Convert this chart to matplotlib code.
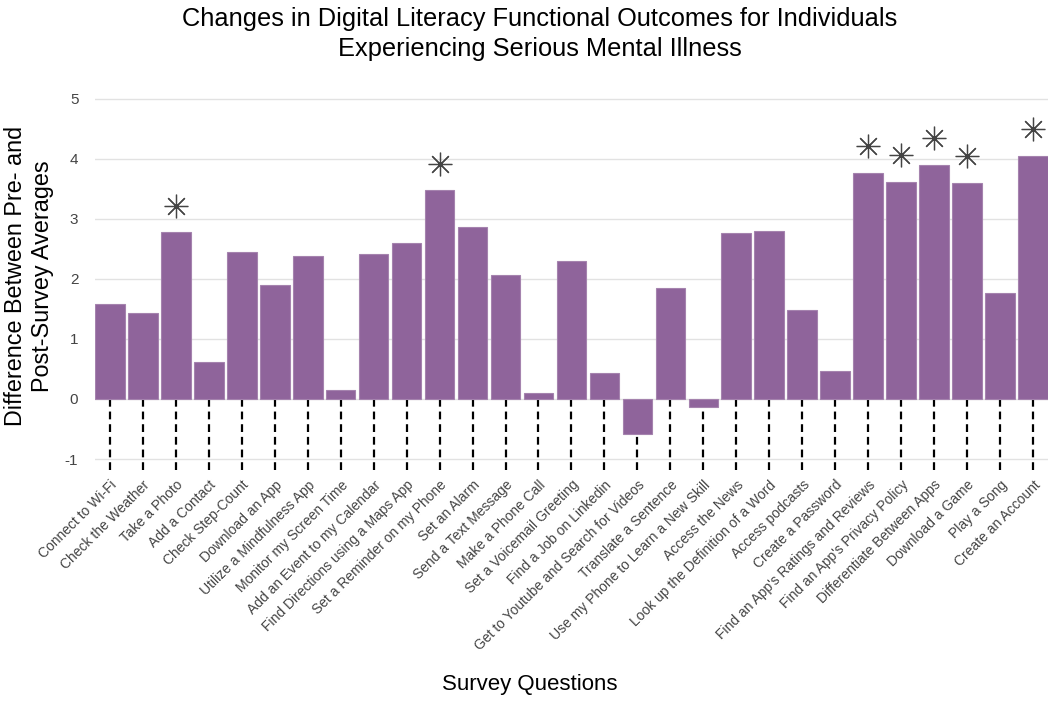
import numpy as np
import matplotlib.pyplot as plt

plt.rcParams['font.family'] = ['Liberation Sans', 'DejaVu Sans']

questions = ["Connect to Wi-Fi", "Check the Weather", "Take a Photo", "Add a Contact",
             "Check Step-Count", "Download an App", "Utilize a Mindfulness App",
             "Monitor my Screen Time", "Add an Event to my Calendar",
             "Find Directions using a Maps App", "Set a Reminder on my Phone",
             "Set an Alarm", "Send a Text Message", "Make a Phone Call",
             "Set a Voicemail Greeting", "Find a Job on Linkedin",
             "Get to Youtube and Search for Videos", "Translate a Sentence",
             "Use my Phone to Learn a New Skill", "Access the News",
             "Look up the Definition of a Word", "Access podcasts", "Create a Password",
             "Find an App's Ratings and Reviews", "Find an App's Privacy Policy",
             "Differentiate Between Apps", "Download a Game", "Play a Song",
             "Create an Account"]
diffs = [1.58, 1.43, 2.78, 0.62, 2.45, 1.90, 2.38, 0.15, 2.41, 2.60, 3.48, 2.87,
         2.06, 0.10, 2.30, 0.43, -0.58, 1.85, -0.14, 2.77, 2.80, 1.48, 0.46,
         3.77, 3.62, 3.90, 3.60, 1.77, 4.05]
significant = [2, 10, 23, 24, 25, 26, 28]

x = np.arange(len(questions))
vals = np.array(diffs)

fig = plt.figure(figsize=(10.5, 7.03), dpi=100)
ax = fig.add_axes([0.0905, 0.33, 0.9075, 0.555])

ax.set_axisbelow(True)
ax.yaxis.grid(True, color='#e2e2e2', linewidth=1)
ax.bar(x, vals, width=0.9, color='#8f649b', edgecolor='#a583ae', linewidth=0.8, zorder=3)

# dashed connectors from bar bottom down to tick labels
bottoms = np.minimum(vals, 0)
ax.vlines(x, -1.18, bottoms, colors='black', linestyles=(0, (3.5, 2.2)), linewidth=1.6, zorder=2)

# significance markers
ax.plot(x[significant], vals[significant] + 0.44, linestyle='none', marker=(8, 2, 0),
        markersize=17, markeredgewidth=0.9, color='#444444', zorder=4)

ax.set_xlim(-0.45, len(questions) - 0.55)
ax.set_ylim(-1.2, 5.3)
ax.set_yticks([-1, 0, 1, 2, 3, 4, 5])
ax.set_yticklabels(['-1', '0', '1', '2', '3', '4', '5'])
ax.set_xticks(x)
ax.set_xticklabels(questions, rotation=45, ha='right', rotation_mode='anchor',
                   fontsize=10, color='#444444')
ax.tick_params(axis='both', length=0)
ax.tick_params(axis='y', labelsize=11, labelcolor='#444444', pad=12)
ax.tick_params(axis='x', pad=5)
for s in ax.spines.values():
    s.set_visible(False)

ax.set_ylabel('Difference Between Pre- and\nPost-Survey Averages', fontsize=16.8, labelpad=8)
fig.text(0.505, 0.012, 'Survey Questions', ha='center', va='bottom', fontsize=16)
fig.text(0.514, 0.99, 'Changes in Digital Literacy Functional Outcomes for Individuals\n'
         'Experiencing Serious Mental Illness', ha='center', va='top', fontsize=18.3,
         linespacing=1.3)

fig.savefig('out.png', dpi=100)
